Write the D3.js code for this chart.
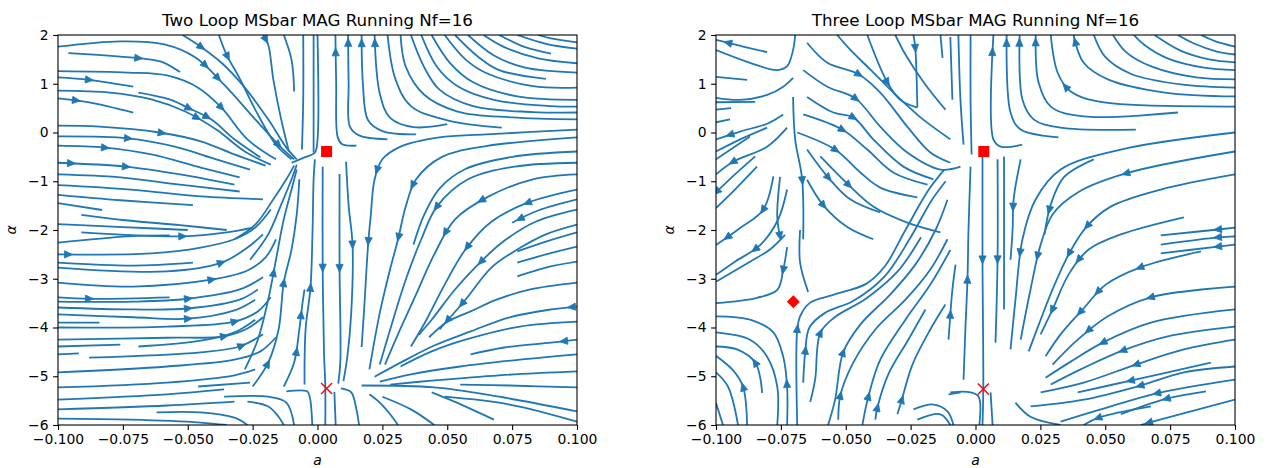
<!DOCTYPE html>
<html>
<head>
<meta charset="utf-8">
<script src="https://cdn.jsdelivr.net/npm/d3@7"></script>
<style>
body{margin:0;background:#fff}
text{font-family:"DejaVu Sans",sans-serif}
</style>
</head>
<body>
<svg width="1268" height="468"></svg>
<script>
// axis ticks and titles
var xTicks = [-0.1,-0.075,-0.05,-0.025,0,0.025,0.05,0.075,0.1]
var yTicks = [2,1,0,-1,-2,-3,-4,-5,-6]
var titles = ["Two Loop MSbar MAG Running Nf=16","Three Loop MSbar MAG Running Nf=16"]

// fixed points [a, alpha]
var twoLoopSquares = [[0.0035,-0.39]]
var twoLoopCrosses = [[0.0035,-5.25]]
var twoLoopDiamonds = []
var threeLoopSquares = [[0.0032,-0.39]]
var threeLoopCrosses = [[0.003,-5.26]]
var threeLoopDiamonds = [[-0.0702,-3.47]]

// streamlines, points in flow order [a, alpha]
var twoLoopLines = [
 // from the left edge, bending down
 [[-0.1,1.76],[-0.076,1.87],[-0.059,1.81],[-0.047,1.54],[-0.036,0.98],[-0.024,0.27],[-0.014,-0.31],[-0.009,-0.55]],
 [[-0.096,1.63],[-0.068,1.52],[-0.06,1.45],[-0.053,1.24]],
 [[-0.1,1.26],[-0.073,1.23],[-0.058,1.17],[-0.046,0.92],[-0.037,0.51],[-0.027,-0.14],[-0.016,-0.55]],
 [[-0.1,1.13],[-0.088,1.08],[-0.071,0.94]],
 [[-0.1,0.86],[-0.08,0.82],[-0.064,0.68],[-0.051,0.43],[-0.039,0.06],[-0.028,-0.39],[-0.018,-0.66]],
 [[-0.1,0.7],[-0.088,0.62],[-0.071,0.41]],
 [[-0.069,0.82],[-0.057,0.68],[-0.05,0.51],[-0.041,0.27],[-0.032,-0.14],[-0.022,-0.51]],
 [[-0.1,0.14],[-0.084,0.12],[-0.061,0.0],[-0.045,-0.18],[-0.032,-0.45],[-0.02,-0.68]],
 [[-0.1,-0.08],[-0.073,-0.12],[-0.055,-0.29],[-0.039,-0.55],[-0.026,-0.76]],
 [[-0.1,-0.27],[-0.082,-0.31],[-0.064,-0.45],[-0.045,-0.72],[-0.03,-0.92]],
 [[-0.1,-0.62],[-0.074,-0.7],[-0.053,-0.86],[-0.032,-1.07]],
 [[-0.1,-0.86],[-0.076,-0.92],[-0.053,-1.07],[-0.03,-1.21]],
 [[-0.1,-1.08],[-0.072,-1.17],[-0.045,-1.31],[-0.021,-1.37]],
 [[-0.1,-1.28],[-0.076,-1.39],[-0.048,-1.49]],
 [[-0.1,-1.45],[-0.083,-1.59]],
 [[-0.091,-1.69],[-0.074,-1.8],[-0.053,-1.9],[-0.035,-2.0]],
 [[-0.1,-1.88],[-0.075,-1.94],[-0.05,-2.0]],
 // from the top edge, down
 [[-0.052,2],[-0.045,1.76],[-0.037,1.43],[-0.028,0.92],[-0.019,0.27],[-0.012,-0.31],[-0.008,-0.55]],
 [[-0.038,2],[-0.035,1.59],[-0.03,1.11],[-0.024,0.47],[-0.016,-0.25],[-0.01,-0.55]],
 [[-0.021,2],[-0.019,1.8],[-0.017,1.08],[-0.014,0.27],[-0.011,-0.39]],
 [[-0.013,2],[-0.01,1.49],[-0.009,0.84]],
 [[-0.0055,2],[-0.0055,0.68],[-0.006,-0.35]],
 [[-0.0015,2],[-0.0015,0.68],[-0.0015,-0.41]],
 [[0.0,2],[0.0,-0.15],[-0.001,-0.41],[-0.005,-0.51],[-0.01,-0.62]],
 // rising into the sink from below
 [[-0.032,-2.19],[-0.024,-1.89],[-0.017,-1.37],[-0.012,-0.96],[-0.009,-0.68]],
 [[-0.026,-2.61],[-0.019,-2.09],[-0.014,-1.48],[-0.01,-0.96],[-0.008,-0.66]],
 // lower left, to the right then up
 [[-0.1,-2.26],[-0.073,-2.13],[-0.057,-2.11]],
 [[-0.091,-2.05],[-0.052,-2.13],[-0.035,-2.05],[-0.025,-1.95]],
 [[-0.1,-2.5],[-0.064,-2.48],[-0.045,-2.36],[-0.032,-2.19],[-0.024,-1.95],[-0.018,-1.58]],
 [[-0.1,-2.67],[-0.071,-2.73],[-0.048,-2.67]],
 [[-0.1,-2.77],[-0.058,-2.85],[-0.037,-2.67],[-0.027,-2.36],[-0.021,-2.09]],
 [[-0.1,-3.08],[-0.071,-3.16],[-0.041,-3.02],[-0.027,-2.83],[-0.02,-2.56],[-0.016,-2.19]],
 [[-0.1,-3.38],[-0.088,-3.41],[-0.057,-3.38]],
 [[-0.1,-3.47],[-0.071,-3.47],[-0.05,-3.41],[-0.03,-3.22],[-0.021,-2.97]],
 [[-0.1,-3.59],[-0.071,-3.63],[-0.05,-3.61],[-0.03,-3.43],[-0.023,-3.22]],
 [[-0.1,-3.73],[-0.071,-3.79],[-0.05,-3.82],[-0.032,-3.65],[-0.024,-3.43]],
 [[-0.1,-3.9],[-0.084,-3.9]],
 [[-0.1,-4.0],[-0.058,-3.98],[-0.032,-3.88],[-0.023,-3.67],[-0.018,-3.38]],
 [[-0.1,-4.25],[-0.058,-4.21],[-0.036,-4.18],[-0.027,-4.02],[-0.021,-3.79]],
 [[-0.1,-4.39],[-0.076,-4.35]],
 [[-0.069,-4.39],[-0.045,-4.27],[-0.032,-4.1],[-0.024,-3.84]],
 [[-0.1,-4.55],[-0.092,-4.53]],
 [[-0.088,-4.62],[-0.045,-4.51],[-0.03,-4.39],[-0.021,-4.14]],
 [[-0.1,-4.92],[-0.058,-4.8],[-0.032,-4.66],[-0.022,-4.49],[-0.016,-4.2]],
 [[-0.1,-5.23],[-0.058,-5.13],[-0.032,-4.98],[-0.024,-4.86]],
 [[-0.046,-5.21],[-0.026,-5.13]],
 [[-0.1,-5.48],[-0.058,-5.37],[-0.036,-5.27]],
 [[-0.1,-5.68],[-0.058,-5.6],[-0.032,-5.52]],
 [[-0.1,-5.87],[-0.072,-5.89],[-0.045,-5.95],[-0.035,-6]],
 [[-0.062,-5.74],[-0.045,-5.74],[-0.032,-5.85],[-0.027,-6]],
 [[-0.027,-5.52],[-0.019,-5.62],[-0.015,-5.83],[-0.013,-6]],
 [[-0.036,-5.42],[-0.019,-5.42],[-0.012,-5.54],[-0.009,-6]],
 [[-0.012,-5.31],[-0.004,-5.31],[-0.003,-5.42],[-0.002,-6]],
 [[-0.025,-5.21],[-0.019,-4.72],[-0.015,-4.04],[-0.013,-3.08],[-0.01,-2.4],[-0.008,-1.68],[-0.007,-0.96]],
 [[-0.013,-5.21],[-0.009,-4.72],[-0.007,-4.04],[-0.006,-3.59],[-0.005,-3.22]],
 [[-0.028,-4.86],[-0.023,-4.25],[-0.019,-3.43],[-0.016,-2.61],[-0.013,-1.78],[-0.01,-1.17],[-0.008,-0.76]],
 [[-0.005,-5.17],[-0.0046,-4.04],[-0.0027,-3.18],[-0.0019,-1.99],[-0.0015,-0.96],[-0.001,-0.55]],
 // upper right, left then up
 [[0.015,-0.27],[0.0095,-0.24],[0.0078,-0.1],[0.0072,1.0],[0.0069,2]],
 [[0.027,-0.14],[0.016,-0.06],[0.0125,0.12],[0.012,1.0],[0.0118,2]],
 [[0.038,-0.04],[0.025,0.03],[0.0195,0.25],[0.0175,1.0],[0.017,2]],
 [[0.05,0.17],[0.037,0.11],[0.028,0.3],[0.024,0.8],[0.022,2]],
 [[0.071,0.1],[0.05,0.25],[0.036,0.54],[0.03,1.1],[0.027,2]],
 [[0.1,0.27],[0.075,0.31],[0.054,0.43],[0.041,0.78],[0.034,1.35],[0.032,2]],
 [[0.1,0.41],[0.083,0.42],[0.06,0.54],[0.047,0.88],[0.041,1.35],[0.036,2]],
 [[0.1,0.53],[0.09,0.54],[0.068,0.67],[0.054,0.95],[0.046,1.35],[0.04,2]],
 [[0.1,0.67],[0.077,0.74],[0.06,1.03],[0.051,1.43],[0.044,2]],
 [[0.1,0.92],[0.083,0.95],[0.065,1.22],[0.057,1.5],[0.049,2]],
 [[0.088,1.1],[0.07,1.28],[0.062,1.55],[0.053,2]],
 [[0.1,1.23],[0.08,1.33],[0.068,1.58],[0.058,2]],
 [[0.1,1.42],[0.085,1.52],[0.072,1.75],[0.064,2]],
 [[0.09,1.62],[0.08,1.75],[0.07,2]],
 [[0.1,1.72],[0.088,1.82],[0.077,2]],
 [[0.1,1.85],[0.09,1.93],[0.085,2]],
 // down the middle
 [[0.002,-0.7],[0.002,-2.8],[0.0025,-4.5],[0.003,-5.2],[0.003,-6]],
 [[0.0085,-0.85],[0.0085,-2.8],[0.0088,-4.7],[0.008,-5.15]],
 [[0.0065,-5.32],[0.007,-6]],
 [[0.011,-0.6],[0.012,-1.5],[0.0135,-2.3],[0.013,-3.7],[0.0115,-4.6],[0.01,-5.1]],
 // lower right fan toward the cross
 [[0.1,0.06],[0.065,-0.04],[0.047,-0.1],[0.032,-0.29],[0.025,-0.55],[0.022,-0.96],[0.0205,-1.72],[0.0195,-2.3],[0.018,-3.6],[0.017,-4.4]],
 [[0.1,-0.1],[0.065,-0.28],[0.048,-0.5],[0.038,-0.96],[0.034,-1.52],[0.031,-2.2],[0.028,-2.8],[0.024,-3.7],[0.02,-4.86]],
 [[0.1,-0.39],[0.075,-0.5],[0.057,-0.75],[0.047,-1.15],[0.041,-1.7],[0.037,-2.3]],
 [[0.1,-0.62],[0.076,-0.7],[0.058,-0.96],[0.046,-1.52],[0.04,-2.19],[0.034,-3.02],[0.028,-4.04],[0.024,-4.76]],
 [[0.1,-0.86],[0.083,-0.96],[0.066,-1.31],[0.053,-1.78],[0.045,-2.5],[0.038,-3.32],[0.031,-4.14],[0.026,-4.76]],
 [[0.1,-1.17],[0.081,-1.44],[0.067,-1.83],[0.057,-2.4],[0.049,-3.12],[0.042,-3.84],[0.036,-4.39]],
 [[0.1,-1.37],[0.085,-1.6],[0.075,-1.85]],
 [[0.1,-1.58],[0.084,-1.83],[0.071,-2.26],[0.063,-2.65],[0.053,-3.22],[0.044,-3.84],[0.039,-4.15]],
 [[0.1,-1.89],[0.088,-2.09],[0.077,-2.4],[0.067,-2.77],[0.057,-3.43],[0.047,-4.04]],
 [[0.1,-2.05],[0.088,-2.24],[0.077,-2.44]],
 [[0.1,-2.34],[0.088,-2.5],[0.077,-2.67]],
 [[0.1,-2.65],[0.088,-2.77],[0.077,-2.95]],
 [[0.1,-3.08],[0.082,-3.22],[0.069,-3.43],[0.059,-3.67],[0.05,-3.88],[0.043,-4.2]],
 [[0.1,-3.57],[0.09,-3.63],[0.074,-3.79],[0.059,-4.08],[0.045,-4.37],[0.032,-4.72],[0.022,-5.01]],
 [[0.1,-3.88],[0.078,-3.98],[0.057,-4.25],[0.044,-4.49],[0.032,-4.8]],
 [[0.1,-4.25],[0.09,-4.31],[0.072,-4.41],[0.059,-4.55]],
 [[0.1,-4.55],[0.078,-4.66],[0.055,-4.8],[0.036,-4.96],[0.024,-5.11]],
 [[0.1,-4.9],[0.07,-4.98],[0.044,-5.09],[0.028,-5.17]],
 [[0.1,-5.23],[0.074,-5.19],[0.055,-5.17]],
 // below the cross
 [[0.017,-5.19],[0.045,-5.23],[0.07,-5.42],[0.1,-5.72]],
 [[0.049,-5.42],[0.074,-5.58],[0.1,-5.93]],
 [[0.009,-5.25],[0.013,-5.33],[0.015,-5.68],[0.016,-6]],
 [[0.02,-5.37],[0.024,-5.54],[0.028,-5.78],[0.031,-6]],
 [[0.025,-5.42],[0.036,-5.68],[0.045,-6]],
 [[0.044,-5.33],[0.051,-5.48],[0.068,-5.89]]
]

var twoLoopArrows = [
 [-0.045,1.76],[-0.035,1.55],[-0.069,1.5],[-0.046,1.22],[-0.039,1.1],[-0.088,1.07],[-0.093,0.66],[-0.037,0.53],
 [-0.041,0.47],[-0.05,0.47],[-0.048,0.16],[-0.06,0.0],[-0.073,-0.12],[-0.082,-0.31],[-0.095,-0.68],[-0.074,-0.7],
 [-0.019,1.94],[-0.015,-0.23],
 [0.007,1.65],[0.012,1.84],[0.017,1.84],[0.022,1.84],
 [0.025,-0.8],[0.0385,-1.13],[0.046,-1.52],[0.046,-1.95],[0.064,-1.48],[0.078,-1.74],[0.081,-1.44],[0.014,-2.3],
 [0.021,-2.24],[0.032,-2.15],[0.055,-2.24],[0.063,-2.65],[0.054,-3.43],[0.05,-3.84],[0.098,-3.6],[0.095,-4.29],
 [0.0023,-2.77],[0.0085,-2.77],
 [-0.052,-2.13],[-0.096,-2.5],[-0.037,-2.67],[-0.041,-3.02],[-0.088,-3.41],[-0.05,-3.41],[-0.05,-3.61],[-0.05,-3.82],
 [-0.032,-3.88],[-0.036,-4.18],[-0.03,-4.31],[-0.02,-4.72],[-0.019,-2.87],[-0.013,-3.08],[-0.009,-3.73],[-0.007,-4.51],
 [-0.0027,-3.18]
]

var threeLoopLines = [
 // upper left corner, flowing to the left edge
 [[-0.0695,2],[-0.0703,1.69],[-0.0726,1.36],[-0.0764,1.28],[-0.0869,1.43],[-0.1,1.69]],
 [[-0.0803,1.65],[-0.0888,1.75],[-0.0954,1.84],[-0.1,1.9]],
 [[-0.088,1.08],[-0.1,1.14]],
 [[-0.0703,1.12],[-0.0741,0.94],[-0.0803,0.77],[-0.0907,0.67],[-0.1,0.71]],
 [[-0.0849,0.63],[-0.1,0.62]],
 [[-0.0942,0.5],[-0.1,0.47]],
 [[-0.0946,0.27],[-0.1,0.21]],
 [[-0.0741,0.37],[-0.0803,0.18],[-0.0907,0.02],[-0.1,-0.14]],
 [[-0.0803,0.1],[-0.0907,-0.14],[-0.1,-0.39]],
 [[-0.0869,-0.08],[-0.1,-0.55]],
 [[-0.0726,0.1],[-0.0803,-0.29],[-0.0934,-0.6],[-0.1,-0.86]],
 [[-0.0849,-0.49],[-0.0927,-0.86],[-0.1,-1.23]],
 [[-0.0842,-0.7],[-0.0927,-1.17],[-0.1,-1.55]],
 [[-0.0779,-0.9],[-0.0819,-1.59],[-0.0907,-1.96],[-0.1,-2.31]],
 [[-0.0726,-1.17],[-0.0761,-1.79],[-0.083,-2.31],[-0.0927,-2.65],[-0.1,-2.92]],
 [[-0.0734,-2.1],[-0.0792,-2.4],[-0.0869,-2.65],[-0.1,-3.06]],
 [[-0.0726,-2.35],[-0.0741,-2.82],[-0.0764,-3.23],[-0.0842,-3.39],[-0.1,-3.5]],
 // down toward the diamond
 [[-0.0703,0.73],[-0.0695,-0.14],[-0.0668,-0.96],[-0.0664,-2.19]],
 [[-0.0753,-0.91],[-0.0764,-1.73],[-0.0753,-2.14]],
 [[-0.0676,-2.0],[-0.0676,-2.67],[-0.0645,-3.27]],
 // upper middle, down toward the square
 [[-0.0649,1.84],[-0.0571,1.43],[-0.0452,1.2],[-0.0367,0.82],[-0.0263,0.12],[-0.0174,-0.41],[-0.0097,-0.62]],
 [[-0.0417,2],[-0.034,1.03],[-0.029,0.67],[-0.0224,0.51]],
 [[-0.0664,1.28],[-0.0571,0.94],[-0.0463,0.7],[-0.0367,0.12],[-0.0263,-0.41],[-0.0135,-0.76],[-0.0058,-0.7]],
 [[-0.0649,0.73],[-0.0548,0.41],[-0.0471,0.31],[-0.0394,-0.14],[-0.0278,-0.7],[-0.0162,-0.96]],
 [[-0.0664,0.37],[-0.0514,0.06],[-0.0417,-0.35],[-0.0317,-0.82],[-0.0185,-1.07]],
 [[-0.0687,0.0],[-0.0541,-0.35],[-0.0444,-0.82],[-0.0367,-1.13],[-0.0224,-1.33]],
 [[-0.0649,-0.35],[-0.0568,-0.92],[-0.0483,-1.37],[-0.0367,-1.64]],
 [[-0.0598,-0.49],[-0.049,-1.07],[-0.0394,-1.52],[-0.0263,-1.85],[-0.0135,-2.05]],
 [[-0.0649,-0.97],[-0.0587,-1.49],[-0.0494,-1.94],[-0.0394,-2.19]],
 [[-0.0533,2],[-0.0483,1.7],[-0.0405,1.29],[-0.0309,0.78],[-0.0212,0.31],[-0.0097,-0.14]],
 [[-0.0309,2],[-0.027,1.6],[-0.0193,0.98],[-0.0116,0.47]],
 [[-0.0239,2],[-0.0232,1.73],[-0.0224,0.52]],
 [[-0.0135,2],[-0.0127,1.53]],
 [[-0.0097,1.96],[-0.0089,0.67]],
 [[-0.0066,2],[-0.0058,0.67],[-0.0046,-0.25]],
 [[-0.0019,2],[-0.0019,0.67],[-0.0015,-0.45]],
 // right of the diamond, up toward the square
 [[-0.0687,-6],[-0.0687,-4.04],[-0.0676,-3.77],[-0.0637,-3.49],[-0.0548,-3.33],[-0.042,-3.1],[-0.035,-2.75],[-0.027,-2.0],[-0.018,-1.17],[-0.012,-0.76]],
 [[-0.0664,-5.13],[-0.0656,-4.49],[-0.064,-4.0],[-0.058,-3.7],[-0.047,-3.45],[-0.035,-2.95],[-0.025,-2.15],[-0.017,-1.4],[-0.0115,-1.0]],
 [[-0.0637,-5.53],[-0.0618,-5.07],[-0.0598,-4.11],[-0.0545,-3.8],[-0.042,-3.4],[-0.03,-2.85],[-0.021,-2.15]],
 [[-0.0568,-6],[-0.0541,-5.48],[-0.051,-4.51],[-0.0444,-3.94],[-0.0328,-3.32],[-0.0232,-2.71],[-0.0154,-2.0],[-0.0108,-1.38]],
 [[-0.0529,-5.89],[-0.0521,-5.4],[-0.0475,-4.76],[-0.0386,-4.04],[-0.027,-3.43],[-0.0174,-2.81],[-0.0108,-2.19]],
 [[-0.0436,-6],[-0.0413,-5.42],[-0.0367,-4.66],[-0.027,-3.84],[-0.0174,-3.12],[-0.0097,-2.41]],
 [[-0.0386,-5.89],[-0.0378,-5.64],[-0.0336,-4.96],[-0.0259,-4.25],[-0.0193,-3.63]],
 [[-0.0301,-5.78],[-0.0286,-5.52],[-0.0243,-4.76],[-0.0174,-4.04],[-0.0116,-3.53]],
 [[-0.0104,-4.25],[-0.0097,-3.73],[-0.0089,-3.22],[-0.0077,-2.71]],
 [[-0.0046,-5.07],[-0.0039,-4.04],[-0.0031,-3.02],[-0.0027,-1.99],[-0.0019,-0.7]],
 // lower left, up then to the left edge
 [[-0.0726,-6],[-0.0726,-5.21],[-0.0741,-4.6],[-0.0779,-4.1],[-0.0869,-3.84],[-0.1,-3.77]],
 [[-0.0764,-6],[-0.0764,-5.21],[-0.0803,-4.6],[-0.0869,-4.25],[-0.1,-4.1]],
 [[-0.0822,-5.34],[-0.0849,-4.72],[-0.0919,-4.45],[-0.1,-4.39]],
 [[-0.088,-6],[-0.0896,-5.21],[-0.0934,-4.88],[-0.1,-4.58]],
 [[-0.0915,-6],[-0.0954,-5.21],[-0.1,-4.92]],
 [[-0.0973,-6],[-0.1,-5.55]],
 // upper right, left then up
 [[0.018,-0.25],[0.0097,-0.29],[0.0069,-0.14],[0.0069,2]],
 [[0.032,-0.1],[0.0174,0.06],[0.0135,0.41],[0.012,2]],
 [[0.0618,0.06],[0.0328,0.1],[0.0224,0.27],[0.0181,0.67],[0.017,2]],
 [[0.078,0.41],[0.0417,0.33],[0.029,0.53],[0.0243,1.03],[0.0232,2]],
 [[0.1,0.53],[0.0483,0.63],[0.0367,0.84],[0.0317,1.22],[0.029,2]],
 [[0.1,0.74],[0.073,0.82],[0.051,1.09],[0.0417,1.43],[0.0378,2]],
 [[0.1,0.92],[0.08,0.98],[0.06,1.2],[0.05,1.55],[0.0456,2]],
 [[0.1,1.09],[0.085,1.13],[0.068,1.35],[0.058,1.65],[0.053,2]],
 [[0.1,1.28],[0.088,1.33],[0.074,1.52],[0.065,1.8],[0.061,2]],
 [[0.1,1.44],[0.09,1.5],[0.079,1.68],[0.069,2]],
 [[0.1,1.6],[0.093,1.66],[0.084,1.83],[0.078,2]],
 [[0.1,1.76],[0.092,1.88],[0.087,2]],
 // down the middle
 [[0.0027,-0.49],[0.0027,-2.61],[0.003,-5.25],[0.0027,-6]],
 [[0.0085,-0.55],[0.0085,-2.61],[0.0077,-4.31]],
 [[0.011,-0.49],[0.011,-2.19],[0.011,-3.63]],
 [[0.0174,-0.55],[0.0147,-1.37],[0.0143,-1.99],[0.0135,-2.61]],
 // lower right fan toward the cross
 [[0.1,0],[0.056,-0.35],[0.0328,-0.76],[0.0232,-1.37],[0.0181,-2.19],[0.0154,-3.43],[0.0135,-4.45]],
 [[0.1,-0.39],[0.0579,-0.84],[0.0394,-1.23],[0.0297,-1.68],[0.0251,-2.3],[0.0212,-3.22],[0.0174,-4.25]],
 [[0.0456,-0.55],[0.034,-0.92],[0.029,-1.48],[0.0266,-2.09]],
 [[0.1,-0.86],[0.0714,-1.17],[0.0521,-1.52],[0.0425,-1.95],[0.0359,-2.5],[0.0297,-3.22],[0.0251,-3.84],[0.0205,-4.49]],
 [[0.0803,-1.74],[0.056,-2.09],[0.0436,-2.4],[0.0359,-2.91],[0.0297,-3.63],[0.0251,-4.14]],
 [[0.1,-1.95],[0.0934,-1.99],[0.0714,-2.11]],
 [[0.1,-2.13],[0.0934,-2.15],[0.0714,-2.3]],
 [[0.1,-2.3],[0.0934,-2.34],[0.0714,-2.48]],
 [[0.0869,-2.44],[0.0633,-2.77],[0.0502,-3.12],[0.0413,-3.63],[0.0328,-4.14],[0.027,-4.59]],
 [[0.1,-3.16],[0.0676,-3.38],[0.051,-3.77],[0.0394,-4.25],[0.0297,-4.76]],
 [[0.1,-3.63],[0.0676,-3.9],[0.049,-4.31],[0.0367,-4.7],[0.027,-5.03]],
 [[0.1,-3.98],[0.0741,-4.18],[0.0568,-4.47],[0.0405,-4.86],[0.029,-5.17]],
 [[0.1,-4.25],[0.0803,-4.45],[0.0618,-4.76],[0.0417,-5.13],[0.0251,-5.33]],
 [[0.0907,-4.72],[0.0598,-5.09],[0.0394,-5.33]],
 [[0.1,-4.8],[0.0803,-4.92],[0.0637,-5.19],[0.0417,-5.48],[0.0212,-5.62]],
 [[0.1,-5.07],[0.0699,-5.35],[0.0483,-5.68],[0.0328,-5.93]],
 [[0.0888,-5.31],[0.0737,-5.46],[0.056,-5.78]],
 [[0.0676,-5.62],[0.0475,-5.85],[0.0417,-6]],
 [[0.1,-5.48],[0.0668,-5.95],[0.0637,-6]],
 // around the bottom of the cross
 [[-0.0097,-5.33],[-0.0019,-5.33],[0.0012,-5.42],[0.0015,-6]],
 [[0.0058,-5.33],[0.0066,-6]],
 [[0.0154,-5.54],[0.0212,-5.83],[0.0328,-6]],
 [[-0.0239,-5.68],[-0.0162,-5.58],[-0.0108,-5.72],[-0.0085,-6]],
 [[-0.0224,-5.89],[-0.0135,-5.78],[-0.0097,-6]],
 [[-0.0104,-5.37],[-0.0058,-5.33]]
]

var threeLoopArrows = [
 [-0.0954,1.84],[-0.0946,0.0],[-0.0934,-0.6],[-0.0992,-1.23],[-0.0819,-1.59],[-0.0965,-2.06],[-0.0838,-2.45],[-0.0757,-2.12],[-0.0741,-2.82],
 [-0.0452,1.2],[-0.034,1.03],[-0.0463,0.69],[-0.0471,0.31],[-0.0514,0.06],[-0.0541,-0.35],[-0.0568,-0.93],[-0.049,-1.07],[-0.0587,-1.49],
 [-0.0668,-0.97],[-0.0232,1.73],
 [-0.0687,-4.03],[-0.0653,-4.48],[-0.0598,-4.11],[-0.051,-4.52],[-0.0525,-5.4],[-0.0413,-5.42],[-0.0378,-5.65],[-0.0286,-5.48],
 [-0.0097,-3.74],[-0.0031,-3.03],
 [-0.0745,-5.16],[-0.0849,-4.73],[-0.0911,-5.26],
 [0.0069,1.65],[0.012,1.84],[0.017,1.84],[0.0232,1.84],[0.0378,1.84],[0.0347,0.93],
 [0.0579,-0.84],[0.0282,-1.59],[0.0143,-1.53],[0.0432,-1.92],[0.0934,-2.0],[0.0934,-2.16],[0.0934,-2.35],[0.0027,-2.61],
 [0.0085,-2.61],[0.0174,-2.47],[0.0266,-2.57],[0.0375,-2.51],[0.0413,-2.67],[0.0297,-3.64],[0.0413,-3.74],[0.0475,-3.29],
 [0.0444,-4.1],[0.049,-4.31],[0.0568,-4.47],[0.0618,-4.76],[0.0598,-5.08],[0.0637,-5.19],[0.0699,-5.35],[0.0737,-5.46],
 [0.0633,-2.77],[0.0676,-3.39],[0.0475,-5.86],[0.0668,-5.96]
]

var panels = [
 {title:titles[0], left:58, lines:twoLoopLines, arrows:twoLoopArrows, squares:twoLoopSquares, crosses:twoLoopCrosses, diamonds:twoLoopDiamonds},
 {title:titles[1], left:716, lines:threeLoopLines, arrows:threeLoopArrows, squares:threeLoopSquares, crosses:threeLoopCrosses, diamonds:threeLoopDiamonds}
]
var plot = {top:35, width:519, height:390}
var blue = "#1f77b4"
var svg = d3.select("svg")

var drawPanel = function(p, pi)
{
    var g = svg.append("g")
               .attr("transform","translate("+p.left+","+plot.top+")")
    var xScale = d3.scaleLinear().domain([-0.1,0.1]).range([0,plot.width])
    var yScale = d3.scaleLinear().domain([-6,2]).range([plot.height,0])

    g.append("clipPath").attr("id","clip"+pi)
     .append("rect").attr("width",plot.width).attr("height",plot.height)

    var lineGenerator = d3.line()
                          .x(function(d){return xScale(d[0])})
                          .y(function(d){return yScale(d[1])})
                          .curve(d3.curveCatmullRom.alpha(0.5))
    var body = g.append("g").attr("clip-path","url(#clip"+pi+")")
    var paths = body.selectAll("path.stream")
                    .data(p.lines)
                    .enter()
                    .append("path")
                    .attr("class","stream")
                    .attr("d",lineGenerator)
                    .attr("fill","none")
                    .attr("stroke",blue)
                    .attr("stroke-width",1.8)
                    .attr("stroke-linecap","butt")

    // sample the drawn paths so each arrow sits on its streamline
    var samples = []
    paths.each(function()
    {
        var len = this.getTotalLength()
        for (var s = 0; s <= len; s += 1)
        {
            var pt = this.getPointAtLength(s)
            samples.push({node:this, s:s, len:len, x:pt.x, y:pt.y})
        }
    })
    p.arrows.forEach(function(ar)
    {
        var ax = xScale(ar[0]), ay = yScale(ar[1])
        var best = null, bd = Infinity
        samples.forEach(function(sm)
        {
            var d = (sm.x-ax)*(sm.x-ax)+(sm.y-ay)*(sm.y-ay)
            if (d < bd) {bd = d; best = sm}
        })
        if (!best) return
        var p0 = best.node.getPointAtLength(Math.max(0,best.s-2))
        var p1 = best.node.getPointAtLength(Math.min(best.len,best.s+2))
        var ang = Math.atan2(p1.y-p0.y, p1.x-p0.x)*180/Math.PI
        body.append("path")
            .attr("d","M4.5,0L-3.5,-3.6L-3.5,3.6Z")
            .attr("fill",blue)
            .attr("stroke",blue)
            .attr("stroke-width",0.8)
            .attr("transform","translate("+best.x+","+best.y+") rotate("+ang+")")
    })

    // fixed points
    g.selectAll("rect.sq").data(p.squares).enter().append("rect")
     .attr("x",function(d){return xScale(d[0])-5.5})
     .attr("y",function(d){return yScale(d[1])-5.5})
     .attr("width",11).attr("height",11).attr("fill","red")
    g.selectAll("path.dm").data(p.diamonds).enter().append("path")
     .attr("d","M0,-6.5L6.5,0L0,6.5L-6.5,0Z")
     .attr("fill","red")
     .attr("transform",function(d){return "translate("+xScale(d[0])+","+yScale(d[1])+")"})
    g.selectAll("path.cr").data(p.crosses).enter().append("path")
     .attr("d","M-5.5,-5.5L5.5,5.5M-5.5,5.5L5.5,-5.5")
     .attr("stroke","red").attr("stroke-width",1.4).attr("fill","none")
     .attr("transform",function(d){return "translate("+xScale(d[0])+","+yScale(d[1])+")"})

    // frame
    g.append("rect").attr("width",plot.width).attr("height",plot.height)
     .attr("fill","none").attr("stroke","black").attr("stroke-width",1.1)

    var xAxis = d3.axisBottom(xScale).tickValues(xTicks).tickFormat(d3.format(".3f"))
                  .tickSize(4.9).tickPadding(4.6)
    var yAxis = d3.axisLeft(yScale).tickValues(yTicks).tickFormat(d3.format("d"))
                  .tickSize(4.9).tickPadding(4.6)
    var xg = g.append("g").attr("transform","translate(0,"+plot.height+")").call(xAxis)
    var yg = g.append("g").call(yAxis)
    ;[xg,yg].forEach(function(ax)
    {
        ax.select(".domain").remove()
        ax.attr("font-size",13.9).attr("font-family","DejaVu Sans, sans-serif")
        ax.selectAll("line").attr("stroke","black").attr("stroke-width",1.1)
        ax.selectAll("text").attr("fill","black")
    })

    g.append("text").attr("x",plot.width/2).attr("y",-9)
     .attr("text-anchor","middle").attr("font-size",16.7).text(p.title)
    g.append("text").attr("x",plot.width/2).attr("y",plot.height+40)
     .attr("text-anchor","middle").attr("font-size",13.9).attr("font-style","italic").text("a")
    g.append("text").attr("transform","translate(-42,"+(plot.height/2)+") rotate(-90)")
     .attr("text-anchor","middle").attr("font-size",13.9).attr("font-style","italic").text("α")
}

panels.forEach(drawPanel)
</script>
</body>
</html>
